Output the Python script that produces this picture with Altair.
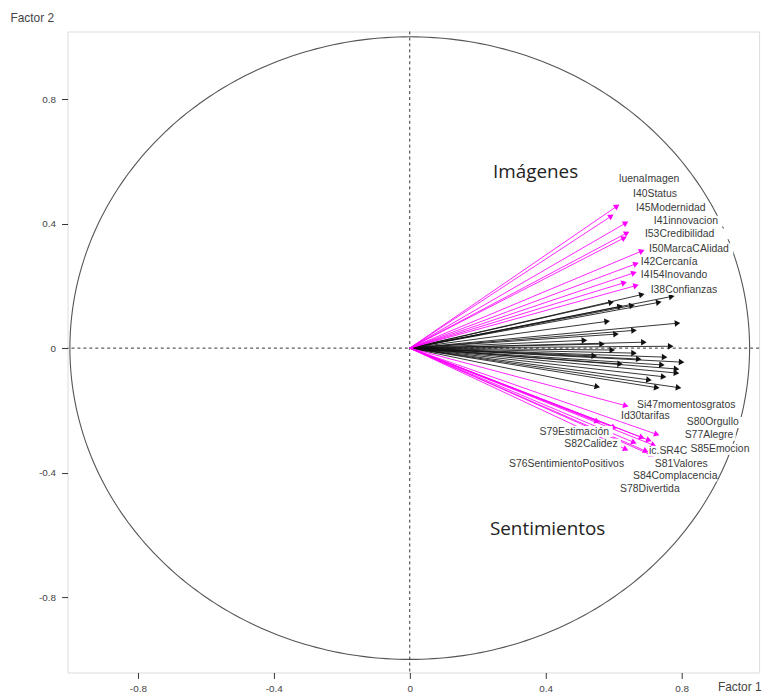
import math
import altair as alt
import pandas as pd

# ---------------- data ----------------
# arrow tips, "Imágenes" group (magenta, upper)
img_x = [0.610, 0.593, 0.636, 0.639, 0.631, 0.683, 0.666, 0.660, 0.631, 0.666]
img_y = [0.456, 0.424, 0.402, 0.370, 0.354, 0.312, 0.271, 0.242, 0.210, 0.201]

# arrow tips, "Sentimientos" group (magenta, lower)
sen_x = [0.636, 0.552, 0.727, 0.683, 0.704, 0.718, 0.636, 0.695, 0.712, 0.660, 0.601]
sen_y = [-0.185, -0.236, -0.277, -0.287, -0.296, -0.312, -0.325, -0.331, -0.344, -0.303, -0.255]

# arrow tips, other variables (black)
oth_x = [0.683, 0.771, 0.733, 0.593, 0.619, 0.654, 0.581, 0.788, 0.607, 0.566,
         0.768, 0.596, 0.660, 0.674, 0.750, 0.800, 0.742, 0.785, 0.619, 0.785,
         0.747, 0.552, 0.727, 0.791, 0.514, 0.689, 0.543, 0.704, 0.660]
oth_y = [0.172, 0.166, 0.147, 0.147, 0.134, 0.137, 0.086, 0.080, 0.045, 0.013,
         0.006, -0.006, -0.016, -0.035, -0.029, -0.045, -0.054, -0.067, -0.051, -0.080,
         -0.092, -0.124, -0.127, -0.127, 0.025, 0.019, -0.025, -0.102, 0.057]

# variable labels
lab_text = ["luenaImagen", "I40Status", "I45Modernidad", "I41innovacion", "I53Credibilidad",
            "I50MarcaCAlidad", "I42Cercanía", "I4", "I54Inovando", "I38Confianzas",
            "Si47momentosgratos", "Id30tarifas", "S80Orgullo", "S79Estimación", "S77Alegre",
            "S82Calidez", "ic.SR4C", "S85Emocion", "S76SentimientoPositivos", "S81Valores",
            "S84Complacencia", "S78Divertida"]
lab_x = [0.616, 0.657, 0.666, 0.718, 0.692, 0.704, 0.680, 0.680, 0.707, 0.709,
         0.669, 0.622, 0.815, 0.382, 0.809, 0.455, 0.704, 0.826, 0.292, 0.721,
         0.657, 0.619]
lab_y = [0.542, 0.494, 0.449, 0.408, 0.367, 0.319, 0.277, 0.236, 0.236, 0.188,
         -0.182, -0.217, -0.239, -0.268, -0.280, -0.309, -0.331, -0.325, -0.373, -0.373,
         -0.411, -0.453]

# group titles
grp_text = ["Imágenes", "Sentimientos"]
grp_x = [0.245, 0.236]
grp_y = [0.567, -0.580]

ticks = [-0.8, -0.4, 0, 0.4, 0.8]

# ---------------- layout ----------------
W, H = 697, 646
XDOM = [-1.007, 1.028]
YDOM = [-1.042, 1.017]
SX = W / (XDOM[1] - XDOM[0])
SY = H / (YDOM[1] - YDOM[0])

MAGENTA = "#ff00ff"
FONT = "Liberation Sans"
LAB_SIZE = 10.5
CHAR_W = 5.6   # approx. average glyph width in px at LAB_SIZE

xs = alt.Scale(domain=XDOM, nice=False, zero=False)
ys = alt.Scale(domain=YDOM, nice=False, zero=False)


def arrows_df(xv, yv):
    df = pd.DataFrame({"x": xv, "y": yv})
    df["x0"] = 0.0
    df["y0"] = 0.0
    df["ang"] = [
        math.degrees(math.atan2(-b * SY, a * SX)) % 360 for a, b in zip(xv, yv)
    ]
    return df


lab_expr = ("datum.value == 0 ? '0' : (datum.value < 0 ? '-' + format(-datum.value, '.1f')"
            " : format(datum.value, '.1f'))")

x_axis = alt.Axis(values=ticks, grid=False, domain=False, tickSize=6, tickColor="#333",
                  labelExpr=lab_expr, labelFont=FONT, labelFontSize=10, labelColor="#444",
                  labelPadding=5, title="Factor 1", titleFont=FONT, titleFontSize=12,
                  titleFontWeight="normal", titleColor="#444", titleX=699, titleY=14,
                  titleAlign="right", titleBaseline="middle")
y_axis = alt.Axis(values=ticks, grid=False, domain=False, tickSize=6, tickColor="#333",
                  labelExpr=lab_expr, labelFont=FONT, labelFontSize=10, labelColor="#444",
                  labelPadding=6, title="Factor 2", titleFont=FONT, titleFontSize=12,
                  titleFontWeight="normal", titleColor="#444", titleAngle=0, titleX=-58,
                  titleY=-14, titleAlign="left", titleBaseline="middle")

# unit circle drawn through the scales
circle = alt.Chart(alt.sequence(0, 361, 1, as_="t")).transform_calculate(
    cx="cos(datum.t * PI / 180)", cy="sin(datum.t * PI / 180)"
).mark_line(color="#555", strokeWidth=1.1).encode(
    x=alt.X("cx:Q", scale=xs, axis=x_axis),
    y=alt.Y("cy:Q", scale=ys, axis=y_axis),
    order="t:Q",
)

zero_df = pd.DataFrame({"v": [0.0]})
vrule = alt.Chart(zero_df).mark_rule(color="#333", strokeDash=[3, 3], strokeWidth=1).encode(
    x=alt.X("v:Q", scale=xs))
hrule = alt.Chart(zero_df).mark_rule(color="#333", strokeDash=[3, 3], strokeWidth=1).encode(
    y=alt.Y("v:Q", scale=ys))


def arrow_layers(df, color, opacity):
    base = alt.Chart(df)
    line = base.mark_rule(color=color, strokeWidth=1, opacity=opacity).encode(
        x=alt.X("x0:Q", scale=xs), y=alt.Y("y0:Q", scale=ys),
        x2="x:Q", y2="y:Q")
    head = base.mark_point(shape="triangle-right", filled=True, size=42, color=color,
                           opacity=1).encode(
        x=alt.X("x:Q", scale=xs), y=alt.Y("y:Q", scale=ys),
        angle=alt.Angle("ang:Q", scale=None))
    return [line, head]


layers = [circle, vrule, hrule]
layers += arrow_layers(arrows_df(oth_x, oth_y), "#111", 0.85)
layers += arrow_layers(arrows_df(img_x, img_y), MAGENTA, 0.85)
layers += arrow_layers(arrows_df(sen_x, sen_y), MAGENTA, 0.85)

# label table, with an opaque box behind each label (as in the original plot)
lab_df = pd.DataFrame({"t": lab_text, "x": lab_x, "y": lab_y})
lab_df["x1"] = lab_df["x"] - 1.0 / SX
lab_df["x2"] = lab_df["x"] + lab_df["t"].str.len() * CHAR_W / SX + 1.0 / SX
lab_df["y1"] = lab_df["y"] - 5.5 / SY
lab_df["y2"] = lab_df["y"] + 5.5 / SY

boxes = alt.Chart(lab_df).mark_rect(color="white").encode(
    x=alt.X("x1:Q", scale=xs), x2="x2:Q",
    y=alt.Y("y1:Q", scale=ys), y2="y2:Q")

labels = alt.Chart(lab_df).mark_text(
    font=FONT, fontSize=LAB_SIZE, color="#3a3a3a", align="left", baseline="middle").encode(
    x=alt.X("x:Q", scale=xs), y=alt.Y("y:Q", scale=ys), text="t:N")

groups = alt.Chart(pd.DataFrame({"t": grp_text, "x": grp_x, "y": grp_y})).mark_text(
    font="Open Sans", fontSize=19, color="#222", align="left", baseline="middle").encode(
    x=alt.X("x:Q", scale=xs), y=alt.Y("y:Q", scale=ys), text="t:N")

layers += [boxes, labels, groups]

chart = alt.layer(*layers).properties(
    width=W, height=H,
    autosize=alt.AutoSizeParams(type="none"),
    padding={"left": 60, "top": 21, "right": 12, "bottom": 24},
).configure_view(stroke="#333", strokeWidth=1).configure(background="white")

chart.save("out.html", embed_options={"renderer": "svg", "actions": False})
